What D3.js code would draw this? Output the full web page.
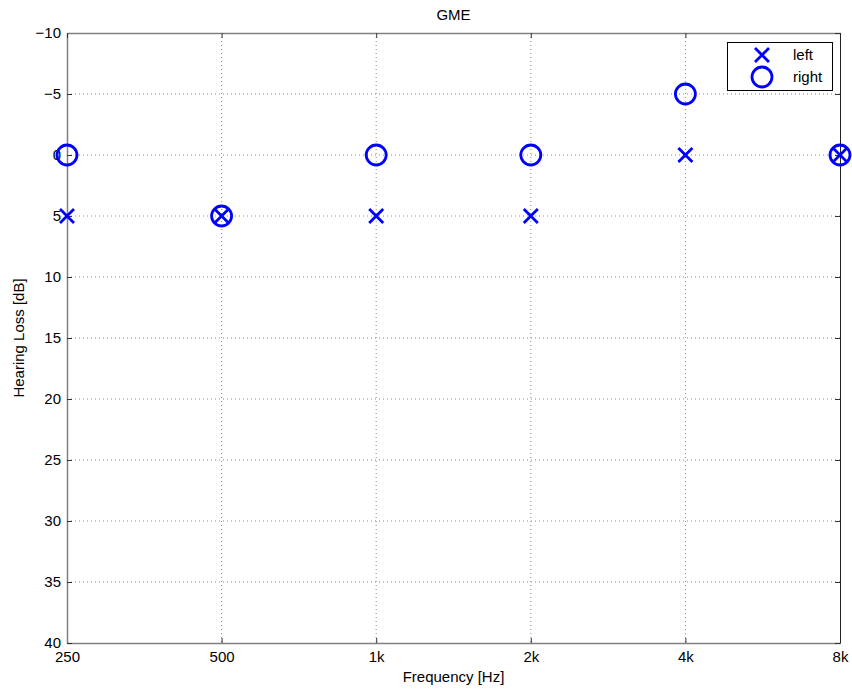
<!DOCTYPE html>
<html><head><meta charset="utf-8">
<script src="https://cdn.jsdelivr.net/npm/d3@7"></script>
<style>
body{margin:0;background:#fff;}
text{font-family:"Liberation Sans","DejaVu Sans",sans-serif;}
</style></head>
<body>
<svg id="chart" width="852" height="691"></svg>
<script>
const freqs = [250, 500, 1000, 2000, 4000, 8000];
const freqLabels = ["250", "500", "1k", "2k", "4k", "8k"];
const leftLoss = [5, 5, 5, 5, 0, 0];
const rightLoss = [0, 5, 0, 0, -5, 0];
const yTicks = [-10, -5, 0, 5, 10, 15, 20, 25, 30, 35, 40];
const title = "GME";

const svg = d3.select("#chart");
const m = {l:67, t:33, r:840, b:643};
const x = d3.scaleLog().domain([250, 8000]).range([m.l, m.r]);
const y = d3.scaleLinear().domain([-10, 40]).range([m.t, m.b]);
const blue = "#0000ff";
const fs = 15;

// grid
const g = svg.append("g");
g.selectAll(".gx").data(freqs.slice(1, -1)).enter().append("line")
  .attr("x1", d=>x(d)).attr("x2", d=>x(d)).attr("y1", m.t).attr("y2", m.b)
  .attr("stroke", "#888").attr("stroke-width", 1).attr("stroke-dasharray", "1,3");
g.selectAll(".gy").data(yTicks.slice(1, -1)).enter().append("line")
  .attr("x1", m.l).attr("x2", m.r).attr("y1", d=>y(d)).attr("y2", d=>y(d))
  .attr("stroke", "#888").attr("stroke-width", 1).attr("stroke-dasharray", "1,3");

// axes
const xAxis = d3.axisBottom(x).tickValues(freqs).tickFormat((d,i)=>freqLabels[i]).tickSizeInner(-5).tickSizeOuter(0).tickPadding(8);
const yAxis = d3.axisLeft(y).tickValues(yTicks).tickFormat(d=>d<0?"\u2212"+Math.abs(d):d).tickSizeInner(-5).tickSizeOuter(0).tickPadding(6);
const xa = svg.append("g").attr("transform", `translate(0,${m.b})`).call(xAxis);
const ya = svg.append("g").attr("transform", `translate(${m.l},0)`).call(yAxis);
[xa, ya].forEach(a=>{
  a.select(".domain").attr("stroke", "#808080").attr("stroke-width", 1.5);
  a.selectAll(".tick line").attr("stroke", "#333");
  a.selectAll(".tick text").attr("font-size", fs).attr("fill", "#000");
});
// top & right axis mirror
const xa2 = svg.append("g").attr("transform", `translate(0,${m.t})`).call(d3.axisTop(x).tickValues(freqs).tickFormat("").tickSizeInner(-5).tickSizeOuter(0));
const ya2 = svg.append("g").attr("transform", `translate(${m.r},0)`).call(d3.axisRight(y).tickValues(yTicks).tickFormat("").tickSizeInner(-5).tickSizeOuter(0));
xa2.select(".domain").attr("stroke", "#808080").attr("stroke-width", 1.5);
ya2.select(".domain").attr("stroke", "#222").attr("stroke-width", 1);
[xa2, ya2].forEach(a=>a.selectAll(".tick line").attr("stroke", "#333"));

// labels
svg.append("text").attr("x", (m.l+m.r)/2).attr("y", 20).attr("text-anchor", "middle").attr("font-size", fs).text(title);
svg.append("text").attr("x", (m.l+m.r)/2).attr("y", 682).attr("text-anchor", "middle").attr("font-size", fs).text("Frequency [Hz]");
svg.append("text").attr("transform", `translate(24,${(m.t+m.b)/2}) rotate(-90)`).attr("text-anchor", "middle").attr("font-size", fs).text("Hearing Loss [dB]");

// markers
const xMark = (sel, cx, cy, s) => {
  sel.append("path").attr("d", `M${cx-s},${cy-s}L${cx+s},${cy+s}M${cx-s},${cy+s}L${cx+s},${cy-s}`)
    .attr("stroke", blue).attr("stroke-width", 2.8).attr("fill", "none");
};
const pts = svg.append("g");
freqs.forEach((f,i)=>{
  pts.append("circle").attr("cx", x(f)).attr("cy", y(rightLoss[i])).attr("r", 10)
    .attr("fill", "none").attr("stroke", blue).attr("stroke-width", 2.8);
});
freqs.forEach((f,i)=> xMark(pts, x(f), y(leftLoss[i]), 7));

// legend
const lg = svg.append("g");
lg.append("rect").attr("x", 727.5).attr("y", 42.5).attr("width", 105).attr("height", 48)
  .attr("fill", "#fff").attr("stroke", "#000").attr("stroke-width", 1);
xMark(lg, 762, 55, 7);
lg.append("circle").attr("cx", 762).attr("cy", 77).attr("r", 10).attr("fill", "none").attr("stroke", blue).attr("stroke-width", 2.8);
lg.append("text").attr("x", 793).attr("y", 60).attr("font-size", fs).text("left");
lg.append("text").attr("x", 793).attr("y", 82).attr("font-size", fs).text("right");
</script>
</body></html>
